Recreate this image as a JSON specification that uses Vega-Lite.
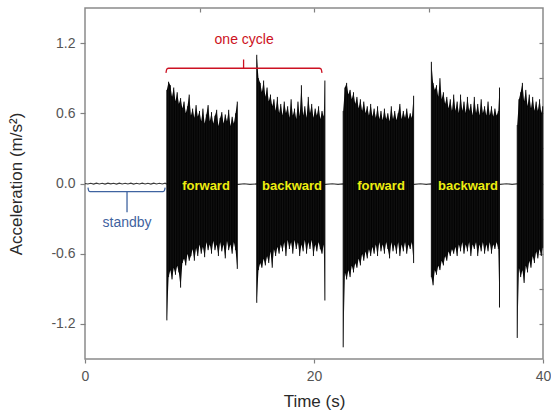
{
"$schema": "https://vega.github.io/schema/vega-lite/v6.json",
"width": 458, "height": 351,
"autosize": {"type": "none"},
"padding": {"left": 85, "top": 8, "right": 8, "bottom": 58},
"background": "white",
"config": {
 "view": {"stroke": "#8a8a8a", "strokeWidth": 1.5},
 "axis": {"domain": false, "grid": false, "labelFlush": false, "labelFont": "Liberation Sans", "titleFont": "Liberation Sans", "labelColor": "#555555", "titleColor": "#333333", "tickColor": "#808080", "tickWidth": 1.2, "labelFontSize": 14, "titleFontSize": 17, "titleFontWeight": "normal"}
},
"datasets": {
 "base": [
  {"t":0,"v":0.0},{"t":0.25,"v":-0.004},{"t":0.5,"v":0.002},{"t":0.75,"v":-0.005},{"t":1,"v":0.003},{"t":1.25,"v":-0.004},{"t":1.5,"v":0.002},{"t":1.75,"v":-0.005},{"t":2,"v":0.003},{"t":2.25,"v":-0.003},{"t":2.5,"v":0.002},{"t":2.75,"v":-0.005},{"t":3,"v":0.003},{"t":3.25,"v":-0.004},{"t":3.5,"v":0.002},{"t":3.75,"v":-0.004},{"t":4,"v":0.003},{"t":4.25,"v":-0.005},{"t":4.5,"v":0.002},{"t":4.75,"v":-0.004},{"t":5,"v":0.003},{"t":5.25,"v":-0.004},{"t":5.5,"v":0.002},{"t":5.75,"v":-0.005},{"t":6,"v":0.003},{"t":6.25,"v":-0.004},{"t":6.5,"v":0.002},{"t":6.75,"v":-0.004},{"t":7,"v":0.002},{"t":7.1,"v":-0.004},
  {"t":13.4,"v":-0.008},{"t":13.9,"v":-0.002},{"t":14.4,"v":-0.008},{"t":14.95,"v":-0.004},
  {"t":21.0,"v":-0.008},{"t":21.6,"v":-0.002},{"t":22.1,"v":-0.008},{"t":22.5,"v":-0.004},
  {"t":28.75,"v":-0.008},{"t":29.3,"v":-0.002},{"t":29.8,"v":-0.008},{"t":30.2,"v":-0.004},
  {"t":36.25,"v":-0.008},{"t":36.8,"v":-0.002},{"t":37.3,"v":-0.008},{"t":37.7,"v":-0.004},{"t":40,"v":0.0}
 ],
 "sig": [
  {"t":7.15,"h":0.80,"l":-1.17},{"t":7.30,"h":0.87,"l":-0.80},{"t":7.45,"h":0.84,"l":-0.74},{"t":7.60,"h":0.74,"l":-0.82},{"t":7.75,"h":0.82,"l":-0.72},{"t":7.90,"h":0.70,"l":-0.78},{"t":8.05,"h":0.78,"l":-0.70},{"t":8.20,"h":0.68,"l":-0.76},{"t":8.35,"h":0.73,"l":-0.89},{"t":8.50,"h":0.64,"l":-0.68},{"t":8.65,"h":0.70,"l":-0.64},{"t":8.80,"h":0.60,"l":-0.70},{"t":8.95,"h":0.66,"l":-0.60},{"t":9.10,"h":0.76,"l":-0.66},{"t":9.25,"h":0.58,"l":-0.62},{"t":9.40,"h":0.64,"l":-0.56},{"t":9.55,"h":0.56,"l":-0.66},{"t":9.70,"h":0.67,"l":-0.55},{"t":9.85,"h":0.57,"l":-0.62},{"t":10.00,"h":0.62,"l":-0.52},{"t":10.15,"h":0.53,"l":-0.60},{"t":10.30,"h":0.64,"l":-0.54},{"t":10.45,"h":0.51,"l":-0.63},{"t":10.60,"h":0.59,"l":-0.50},{"t":10.75,"h":0.67,"l":-0.57},{"t":10.90,"h":0.53,"l":-0.52},{"t":11.05,"h":0.61,"l":-0.60},{"t":11.20,"h":0.51,"l":-0.49},{"t":11.35,"h":0.58,"l":-0.57},{"t":11.50,"h":0.63,"l":-0.52},{"t":11.65,"h":0.49,"l":-0.62},{"t":11.80,"h":0.56,"l":-0.50},{"t":11.95,"h":0.61,"l":-0.58},{"t":12.10,"h":0.51,"l":-0.52},{"t":12.25,"h":0.59,"l":-0.64},{"t":12.40,"h":0.53,"l":-0.49},{"t":12.55,"h":0.63,"l":-0.57},{"t":12.70,"h":0.49,"l":-0.52},{"t":12.85,"h":0.57,"l":-0.60},{"t":13.00,"h":0.51,"l":-0.50},{"t":13.15,"h":0.60,"l":-0.57},{"t":13.30,"h":0.70,"l":-0.73},
  {"t":14.2,"h":null,"l":null},
  {"t":15.00,"h":1.10,"l":-1.02},{"t":15.15,"h":0.90,"l":-0.74},{"t":15.30,"h":0.86,"l":-0.68},{"t":15.45,"h":0.78,"l":-0.72},{"t":15.60,"h":0.88,"l":-0.64},{"t":15.75,"h":0.74,"l":-0.70},{"t":15.90,"h":0.82,"l":-0.62},{"t":16.05,"h":0.70,"l":-0.68},{"t":16.20,"h":0.76,"l":-0.58},{"t":16.35,"h":0.66,"l":-0.72},{"t":16.50,"h":0.72,"l":-0.56},{"t":16.65,"h":0.62,"l":-0.62},{"t":16.80,"h":0.74,"l":-0.54},{"t":16.95,"h":0.60,"l":-0.60},{"t":17.10,"h":0.68,"l":-0.52},{"t":17.25,"h":0.58,"l":-0.58},{"t":17.40,"h":0.70,"l":-0.50},{"t":17.55,"h":0.60,"l":-0.62},{"t":17.70,"h":0.66,"l":-0.48},{"t":17.85,"h":0.56,"l":-0.56},{"t":18.00,"h":0.72,"l":-0.50},{"t":18.15,"h":0.58,"l":-0.60},{"t":18.30,"h":0.64,"l":-0.48},{"t":18.45,"h":0.55,"l":-0.56},{"t":18.60,"h":0.70,"l":-0.50},{"t":18.75,"h":0.57,"l":-0.62},{"t":18.90,"h":0.84,"l":-0.52},{"t":19.05,"h":0.58,"l":-0.58},{"t":19.20,"h":0.66,"l":-0.48},{"t":19.35,"h":0.56,"l":-0.60},{"t":19.50,"h":0.74,"l":-0.50},{"t":19.65,"h":0.60,"l":-0.56},{"t":19.80,"h":0.68,"l":-0.48},{"t":19.95,"h":0.56,"l":-0.62},{"t":20.10,"h":0.64,"l":-0.52},{"t":20.25,"h":0.58,"l":-0.58},{"t":20.40,"h":0.66,"l":-0.50},{"t":20.55,"h":0.55,"l":-0.56},{"t":20.70,"h":0.62,"l":-0.60},{"t":20.85,"h":0.57,"l":-0.52},{"t":20.95,"h":0.88,"l":-1.00},
  {"t":21.7,"h":null,"l":null},
  {"t":22.55,"h":0.62,"l":-1.40},{"t":22.70,"h":0.82,"l":-0.76},{"t":22.85,"h":0.86,"l":-0.82},{"t":23.00,"h":0.76,"l":-0.74},{"t":23.15,"h":0.80,"l":-0.80},{"t":23.30,"h":0.72,"l":-0.70},{"t":23.45,"h":0.78,"l":-0.76},{"t":23.60,"h":0.68,"l":-0.68},{"t":23.75,"h":0.74,"l":-0.72},{"t":23.90,"h":0.64,"l":-0.64},{"t":24.05,"h":0.72,"l":-0.70},{"t":24.20,"h":0.62,"l":-0.60},{"t":24.35,"h":0.70,"l":-0.66},{"t":24.50,"h":0.60,"l":-0.58},{"t":24.65,"h":0.66,"l":-0.64},{"t":24.80,"h":0.58,"l":-0.56},{"t":24.95,"h":0.68,"l":-0.62},{"t":25.10,"h":0.57,"l":-0.54},{"t":25.25,"h":0.64,"l":-0.60},{"t":25.40,"h":0.56,"l":-0.52},{"t":25.55,"h":0.66,"l":-0.62},{"t":25.70,"h":0.55,"l":-0.50},{"t":25.85,"h":0.62,"l":-0.58},{"t":26.00,"h":0.54,"l":-0.52},{"t":26.15,"h":0.64,"l":-0.60},{"t":26.30,"h":0.55,"l":-0.50},{"t":26.45,"h":0.60,"l":-0.56},{"t":26.60,"h":0.53,"l":-0.64},{"t":26.75,"h":0.66,"l":-0.50},{"t":26.90,"h":0.55,"l":-0.58},{"t":27.05,"h":0.62,"l":-0.52},{"t":27.20,"h":0.54,"l":-0.60},{"t":27.35,"h":0.60,"l":-0.50},{"t":27.50,"h":0.68,"l":-0.62},{"t":27.65,"h":0.55,"l":-0.52},{"t":27.80,"h":0.62,"l":-0.58},{"t":27.95,"h":0.56,"l":-0.50},{"t":28.10,"h":0.64,"l":-0.60},{"t":28.25,"h":0.55,"l":-0.52},{"t":28.40,"h":0.60,"l":-0.56},{"t":28.55,"h":0.56,"l":-0.50},{"t":28.70,"h":0.75,"l":-0.68},
  {"t":29.5,"h":null,"l":null},
  {"t":30.25,"h":1.04,"l":-0.80},{"t":30.40,"h":0.86,"l":-0.87},{"t":30.55,"h":0.80,"l":-0.74},{"t":30.70,"h":0.84,"l":-0.78},{"t":30.85,"h":0.74,"l":-0.70},{"t":31.00,"h":0.90,"l":-0.74},{"t":31.15,"h":0.72,"l":-0.66},{"t":31.30,"h":0.78,"l":-0.70},{"t":31.45,"h":0.68,"l":-0.62},{"t":31.60,"h":0.74,"l":-0.66},{"t":31.75,"h":0.64,"l":-0.58},{"t":31.90,"h":0.72,"l":-0.62},{"t":32.05,"h":0.62,"l":-0.56},{"t":32.20,"h":0.76,"l":-0.60},{"t":32.35,"h":0.62,"l":-0.54},{"t":32.50,"h":0.70,"l":-0.62},{"t":32.65,"h":0.60,"l":-0.52},{"t":32.80,"h":0.76,"l":-0.58},{"t":32.95,"h":0.62,"l":-0.50},{"t":33.10,"h":0.70,"l":-0.60},{"t":33.25,"h":0.60,"l":-0.52},{"t":33.40,"h":0.74,"l":-0.58},{"t":33.55,"h":0.62,"l":-0.50},{"t":33.70,"h":0.68,"l":-0.62},{"t":33.85,"h":0.58,"l":-0.52},{"t":34.00,"h":0.74,"l":-0.56},{"t":34.15,"h":0.60,"l":-0.50},{"t":34.30,"h":0.68,"l":-0.62},{"t":34.45,"h":0.58,"l":-0.52},{"t":34.60,"h":0.72,"l":-0.58},{"t":34.75,"h":0.60,"l":-0.50},{"t":34.90,"h":0.66,"l":-0.60},{"t":35.05,"h":0.58,"l":-0.52},{"t":35.20,"h":0.70,"l":-0.58},{"t":35.35,"h":0.58,"l":-0.50},{"t":35.50,"h":0.66,"l":-0.60},{"t":35.65,"h":0.57,"l":-0.52},{"t":35.80,"h":0.64,"l":-0.56},{"t":35.95,"h":0.58,"l":-0.50},{"t":36.10,"h":0.62,"l":-0.56},{"t":36.20,"h":0.82,"l":-1.06},
  {"t":37.0,"h":null,"l":null},
  {"t":37.75,"h":0.50,"l":-1.32},{"t":37.90,"h":0.72,"l":-0.72},{"t":38.05,"h":0.78,"l":-0.80},{"t":38.20,"h":0.86,"l":-0.74},{"t":38.35,"h":0.70,"l":-0.85},{"t":38.50,"h":0.80,"l":-0.70},{"t":38.65,"h":0.66,"l":-0.76},{"t":38.80,"h":0.76,"l":-0.66},{"t":38.95,"h":0.64,"l":-0.72},{"t":39.10,"h":0.74,"l":-0.62},{"t":39.25,"h":0.62,"l":-0.68},{"t":39.40,"h":0.70,"l":-0.58},{"t":39.55,"h":0.62,"l":-0.64},{"t":39.70,"h":0.72,"l":-0.56},{"t":39.85,"h":0.60,"l":-0.62},{"t":39.97,"h":0.66,"l":-0.55}
 ],
 "cycle": [{"t":7.07,"v":0.945},{"t":7.15,"v":0.978},{"t":7.3,"v":0.985},{"t":20.47,"v":0.985},{"t":20.62,"v":0.978},{"t":20.7,"v":0.945}],
 "standbyBr": [{"t":0.26,"v":-0.035},{"t":0.33,"v":-0.063},{"t":0.45,"v":-0.07},{"t":6.8,"v":-0.07},{"t":6.92,"v":-0.063},{"t":7.0,"v":-0.035}],
 "ticks": [{"t":13.85,"v":0.985,"v2":1.06,"c":"cycle"},{"t":3.67,"v":-0.07,"v2":-0.245,"c":"standby"}],
 "notes": [{"t":13.9,"v":1.23,"s":"one cycle","c":"cycle"},{"t":3.67,"v":-0.335,"s":"standby","c":"standby"}],
 "labels": [{"t":10.57,"v":-0.02,"s":"forward"},{"t":18.08,"v":-0.02,"s":"backward"},{"t":25.85,"v":-0.02,"s":"forward"},{"t":33.45,"v":-0.02,"s":"backward"}]
},
"resolve": {"axis": {"x": "independent", "y": "independent"}},
"layer": [
 {"data": {"name": "base"}, "mark": {"type": "line", "color": "#3a3a3a", "strokeWidth": 1.2},
  "encoding": {
   "x": {"field": "t", "type": "quantitative", "scale": {"domain": [0, 40], "nice": false, "zero": false},
         "axis": {"orient": "bottom", "values": [0, 20, 40], "tickSize": 4, "labelPadding": 6, "title": "Time (s)", "titlePadding": 10, "titleColor": "#2a2a2a"}},
   "y": {"field": "v", "type": "quantitative", "scale": {"domain": [-1.5, 1.5], "nice": false, "zero": false},
         "axis": {"orient": "left", "values": [-1.2, -0.6, 0, 0.6, 1.2], "tickSize": 5, "labelPadding": 5, "labelExpr": "replace(format(datum.value, '.1f'), '\u2212', '-')", "title": "Acceleration (m/s\u00b2)", "titlePadding": 25, "titleColor": "#2a2a2a"}}
  }},
 {"data": {"name": "base"}, "mark": {"type": "point", "opacity": 0},
  "encoding": {
   "x": {"field": "t", "type": "quantitative", "scale": {"domain": [0, 40], "nice": false, "zero": false},
         "axis": {"orient": "top", "values": [10, 20, 30], "tickSize": -4, "labels": false, "title": null}},
   "y": {"field": "v", "type": "quantitative", "scale": {"domain": [-1.5, 1.5], "nice": false, "zero": false},
         "axis": {"orient": "right", "values": [-1.2, -0.9, -0.6, -0.3, 0, 0.3, 0.6, 0.9, 1.2], "tickSize": -4, "labels": false, "title": null}}
  }},
 {"data": {"name": "sig"}, "mark": {"type": "area", "color": "#000000", "opacity": 1},
  "encoding": {
   "x": {"field": "t", "type": "quantitative", "scale": {"domain": [0, 40], "nice": false, "zero": false}, "axis": null},
   "y": {"field": "l", "type": "quantitative", "scale": {"domain": [-1.5, 1.5], "nice": false, "zero": false}, "axis": null},
   "y2": {"field": "h"}
  }},
 {"data": {"name": "sig"}, "mark": {"type": "rule", "color": "#111111", "strokeWidth": 1},
  "encoding": {
   "x": {"field": "t", "type": "quantitative", "scale": {"domain": [0, 40], "nice": false, "zero": false}, "axis": null},
   "y": {"field": "l", "type": "quantitative", "scale": {"domain": [-1.5, 1.5], "nice": false, "zero": false}, "axis": null},
   "y2": {"field": "h"}
  }},
 {"data": {"name": "cycle"}, "mark": {"type": "line", "color": "#cc1122", "strokeWidth": 1.3, "interpolate": "monotone"},
  "encoding": {
   "x": {"field": "t", "type": "quantitative", "scale": {"domain": [0, 40], "nice": false, "zero": false}, "axis": null},
   "y": {"field": "v", "type": "quantitative", "scale": {"domain": [-1.5, 1.5], "nice": false, "zero": false}, "axis": null}
  }},
 {"data": {"name": "standbyBr"}, "mark": {"type": "line", "color": "#3f63a0", "strokeWidth": 1.3, "interpolate": "monotone"},
  "encoding": {
   "x": {"field": "t", "type": "quantitative", "scale": {"domain": [0, 40], "nice": false, "zero": false}, "axis": null},
   "y": {"field": "v", "type": "quantitative", "scale": {"domain": [-1.5, 1.5], "nice": false, "zero": false}, "axis": null}
  }},
 {"data": {"name": "ticks"}, "mark": {"type": "rule", "strokeWidth": 1.3},
  "encoding": {
   "x": {"field": "t", "type": "quantitative", "scale": {"domain": [0, 40], "nice": false, "zero": false}, "axis": null},
   "y": {"field": "v", "type": "quantitative", "scale": {"domain": [-1.5, 1.5], "nice": false, "zero": false}, "axis": null},
   "y2": {"field": "v2"},
   "color": {"field": "c", "type": "nominal", "scale": {"domain": ["cycle", "standby"], "range": ["#cc1122", "#3f63a0"]}, "legend": null}
  }},
 {"data": {"name": "notes"}, "mark": {"type": "text", "font": "Liberation Sans", "fontSize": 14, "baseline": "middle", "align": "center", "letterSpacing": -0.7},
  "encoding": {
   "x": {"field": "t", "type": "quantitative", "scale": {"domain": [0, 40], "nice": false, "zero": false}, "axis": null},
   "y": {"field": "v", "type": "quantitative", "scale": {"domain": [-1.5, 1.5], "nice": false, "zero": false}, "axis": null},
   "text": {"field": "s"},
   "color": {"field": "c", "type": "nominal", "scale": {"domain": ["cycle", "standby"], "range": ["#cc1122", "#3f63a0"]}, "legend": null}
  }},
 {"data": {"name": "labels"}, "mark": {"type": "text", "font": "Liberation Sans", "fontSize": 13, "fontWeight": "bold", "baseline": "middle", "align": "center", "color": "#eeee10", "letterSpacing": -0.3},
  "encoding": {
   "x": {"field": "t", "type": "quantitative", "scale": {"domain": [0, 40], "nice": false, "zero": false}, "axis": null},
   "y": {"field": "v", "type": "quantitative", "scale": {"domain": [-1.5, 1.5], "nice": false, "zero": false}, "axis": null},
   "text": {"field": "s"}
  }}
]
}
